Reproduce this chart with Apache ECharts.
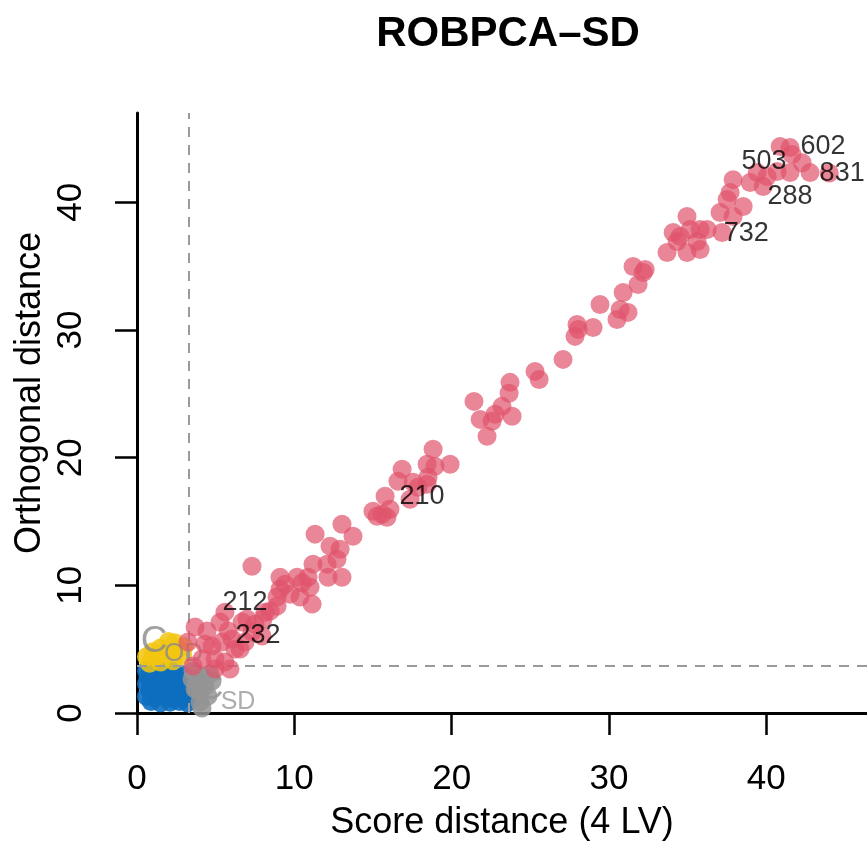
<!DOCTYPE html>
<html>
<head>
<meta charset="utf-8">
<script src="https://cdn.jsdelivr.net/npm/echarts@6/dist/echarts.min.js"></script>
<style>html,body{margin:0;padding:0;background:#fff}#c{width:867px;height:846px}</style>
</head>
<body>
<div id="c"></div>
<script>
// ---- data (score distance, orthogonal distance) ----
var regularPts = [
  [0.6,3.3],[1.2,3.4],[1.8,3.3],[2.4,3.1],[2.9,3.0],
  [0.7,2.8],[1.3,2.9],[1.9,2.7],[2.5,2.6],[3.1,2.5],
  [0.6,2.3],[1.1,2.2],[1.6,2.4],[2.2,2.2],[2.8,2.1],[3.4,2.0],
  [0.8,1.8],[1.4,1.7],[2.0,1.9],[2.6,1.6],[3.2,1.5],
  [0.6,1.3],[1.1,1.2],[1.7,1.3],[2.3,1.1],[2.9,1.2],[3.5,1.1],
  [0.9,0.9],[1.5,0.8],[2.1,0.85],[2.7,0.9],[3.2,0.8],
  [1.0,1.5],[1.8,2.0],[2.4,1.4],[1.5,3.0],[2.2,3.3],[0.9,2.5]
];
var odOutlierPts = [
  [0.6,4.4],[1.0,4.8],[1.5,5.1],[2.0,5.6],[2.4,5.5],[2.6,5.0],[2.9,4.5],
  [2.3,4.1],[1.5,4.0],[0.8,3.9],[1.2,4.4],[1.9,4.6],[3.0,5.2]
];
var sdOutlierPts = [
  [3.56,3.29],[4.13,2.90],[4.77,2.50],[4.32,2.11],[4.00,1.64],[4.51,1.33],
  [4.00,0.86],[4.13,0.39],[3.81,2.43],[3.50,2.66],[4.64,3.05],[3.69,1.88]
];
var extremePts = [
  [40.88,44.37],[41.51,44.29],[41.64,43.74],[42.28,43.11],[42.78,42.33],[41.51,42.33],
  [40.69,42.41],[40.05,42.02],[39.42,42.33],[39.80,41.24],[38.97,41.55],[37.89,41.78],
  [37.70,40.77],[37.51,40.22],[38.53,39.67],[37.06,39.20],[37.89,38.89],[37.19,37.64],
  [36.24,37.87],[35.79,37.87],[34.96,38.89],[35.16,37.87],[34.52,37.32],[34.08,37.64],
  [35.79,36.31],[34.96,36.07],[33.69,36.07],[34.33,36.93],[35.60,36.93],[32.17,34.51],
  [31.53,34.98],[32.30,34.74],[31.85,33.57],[30.90,32.94],[29.43,32.00],[30.71,31.61],
  [31.21,31.38],[30.51,30.83],[27.97,30.44],[28.04,30.05],[27.84,29.50],[28.99,30.20],
  [27.08,27.70],[25.30,26.76],[25.56,26.13],[23.71,25.90],[23.65,25.04],[23.20,24.02],
  [21.42,24.41],[21.81,23.00],[22.57,22.85],[22.76,23.40],[23.84,23.24],[22.25,21.67],
  [18.82,20.66],[19.90,19.48],[18.44,19.48],[18.94,19.33],[16.85,19.09],[18.50,18.47],
  [17.55,18.08],[16.59,18.15],[18.44,17.92],[17.86,17.68],[17.36,16.74],[15.77,16.98],
  [15.00,15.81],[15.58,15.57],[16.08,15.96],[15.89,15.34],[15.26,15.41],[13.03,14.79],
  [13.73,13.85],[11.32,14.01],[12.27,13.07],[12.91,12.83],[12.71,12.05],[11.19,11.66],
  [12.08,11.66],[7.31,11.50],[12.14,10.64],[13.03,10.64],[9.09,10.64],[10.17,10.64],
  [10.87,10.64],[11.00,9.86],[9.73,9.31],[8.90,9.08],[10.36,9.08],[11.13,8.53],
  [8.90,8.37],[6.99,7.36],[8.01,7.36],[3.69,6.73],[4.45,6.42],[5.28,7.12],
  [5.79,6.42],[4.77,5.24],[5.40,5.56],[6.23,5.01],[6.87,5.56],[5.59,3.99],
  [4.96,4.23],[4.13,4.23],[3.24,5.56],[3.56,3.68],[4.96,3.44],[5.91,3.44],
  [8.14,7.90],[7.95,6.03],[7.31,6.34],[6.68,7.12],[5.59,7.90],[8.46,7.98],
  [6.55,5.01],[4.32,5.40],[6.04,5.79],[7.50,6.96],[9.09,9.70],[9.41,10.09],
  [10.5,10.2],[44.0,42.3]
];
var pointLabels = [
  {name:'602', value:[43.61,44.37]},
  {name:'503', value:[39.86,43.19]},
  {name:'831', value:[44.82,42.25]},
  {name:'288', value:[41.51,40.45]},
  {name:'732', value:[38.72,37.56]},
  {name:'210', value:[18.12,16.98]},
  {name:'212', value:[6.87,8.69]},
  {name:'232', value:[7.69,6.10]}
];
var sdCutoff = 3.31;
var odCutoff = 3.7;
var xTicks = [0,10,20,30,40];
var yTicks = [0,10,20,30,40];
var xMax = 46.4, yMax = 47.0;

var FONT = 'Liberation Sans, Arial, Helvetica, sans-serif';
var chart = echarts.init(document.getElementById('c'), null, {renderer:'canvas'});

function textSeries(data, size, color, z) {
  return {
    type:'scatter', data:data, symbolSize:1, silent:true, z:z,
    label:{show:true, position:'inside', formatter:'{b}', fontSize:size, color:color,
      fontFamily:FONT, textBorderWidth:0, textShadowBlur:0},
    itemStyle:{color:'rgba(0,0,0,0)'}
  };
}

var axisCommon = {
  axisLine:{show:true, onZero:false, lineStyle:{color:'#000', width:3}},
  axisTick:{show:true, inside:false, length:22, lineStyle:{color:'#000', width:2.5}},
  splitLine:{show:false}
};

chart.setOption({
  animation:false,
  backgroundColor:'#fff',
  title:{text:'ROBPCA\u2013SD', left:503, top:8, textAlign:'center',
    textStyle:{fontSize:42, fontWeight:'bold', color:'#000', fontFamily:FONT}},
  grid:{left:137, right:0, top:113, bottom:132, containLabel:false},
  xAxis:Object.assign({}, axisCommon, {
    type:'value', min:0, max:xMax,
    name:'Score distance (4 LV)', nameLocation:'middle', nameGap:92,
    nameTextStyle:{fontSize:36, color:'#000', fontFamily:FONT},
    axisTick:Object.assign({}, axisCommon.axisTick, {customValues:xTicks}),
    axisLabel:{customValues:xTicks, fontSize:35, color:'#000', margin:49, fontFamily:FONT}
  }),
  yAxis:Object.assign({}, axisCommon, {
    type:'value', min:0, max:yMax,
    axisTick:Object.assign({}, axisCommon.axisTick, {customValues:yTicks}),
    axisLabel:{customValues:yTicks, fontSize:35, color:'#000', margin:48, rotate:90, fontFamily:FONT}
  }),
  graphic:[{
    type:'text', x:30, y:393, rotation:Math.PI/2,
    style:{text:'Orthogonal distance', fontSize:36, fill:'#000', fontFamily:FONT,
      align:'center', verticalAlign:'middle'}
  }],
  series:[
    {
      type:'scatter', data:[], silent:true, z:1,
      markLine:{silent:true, symbol:['none','none'], label:{show:false},
        lineStyle:{color:'#9a9a9a', width:2, type:[10,8]},
        data:[{xAxis:sdCutoff},{yAxis:odCutoff}]}
    },
    {type:'scatter', z:3, data:regularPts, symbolSize:19, itemStyle:{color:'#0d6ebf', opacity:0.9}},
    {type:'scatter', z:3, data:odOutlierPts, symbolSize:19, itemStyle:{color:'#F2C511', opacity:0.85}},
    textSeries([{name:'C', value:[1.08,5.56]},{name:'C', value:[4.64,1.88]}], 37, '#8a8a8a', 4),
    textSeries([{name:'OD', value:[2.95,4.62]}], 26, '#8a8a8a', 4),
    textSeries([{name:'SD', value:[6.42,0.86]}], 25, '#999999', 4),
    {type:'scatter', z:5, data:sdOutlierPts, symbolSize:19, itemStyle:{color:'#949494', opacity:0.85}},
    {type:'scatter', z:5, data:extremePts, symbolSize:19, itemStyle:{color:'#DF536B', opacity:0.7}},
    textSeries(pointLabels, 27, '#000', 6)
  ]
});
</script>
</body>
</html>
